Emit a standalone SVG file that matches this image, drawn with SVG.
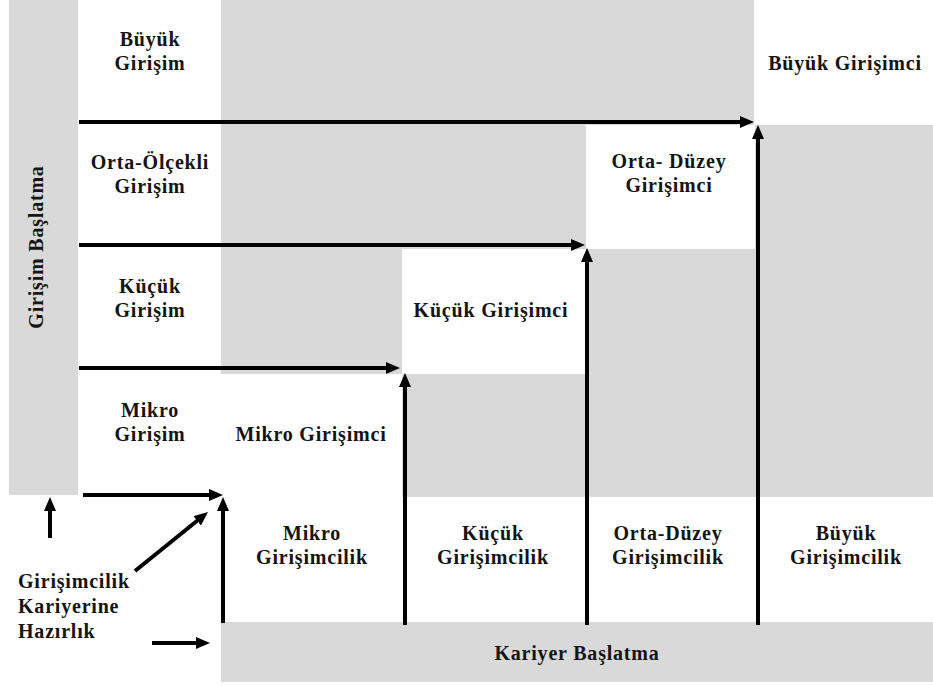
<svg xmlns="http://www.w3.org/2000/svg" width="933" height="686" viewBox="0 0 933 686" font-family="'Liberation Serif', 'Times New Roman', serif">
<defs>
<style>
.bg{fill:#d9d9d9}
.t{font-family:'Liberation Serif','Times New Roman',serif;font-weight:bold;font-size:20px;letter-spacing:0.8px;fill:#141414;text-anchor:middle}
.tl{text-anchor:start}
.c{stroke:#000;stroke-width:4;fill:none;marker-end:url(#ah)}
</style>
<marker id="ah" markerUnits="userSpaceOnUse" markerWidth="16" markerHeight="14" refX="2" refY="6" orient="auto">
<path d="M0,0 L14,6 L0,12 z" fill="#000"/>
</marker>
</defs>
<rect width="933" height="686" fill="#fff"/>
<g id="background">
<rect class="bg" x="9" y="0" width="69" height="495"/>
<rect class="bg" x="221" y="0" width="533" height="125"/>
<rect class="bg" x="221" y="125" width="365" height="124"/>
<rect class="bg" x="755" y="125" width="178" height="124"/>
<rect class="bg" x="221" y="249" width="181" height="125"/>
<rect class="bg" x="586" y="249" width="347" height="125"/>
<rect class="bg" x="402" y="374" width="531" height="123"/>
<rect class="bg" x="221" y="622" width="712" height="60"/>
</g>
<g id="axis-girisim-baslatma"><text class="t" transform="translate(43,247) rotate(-90)">Girişim Başlatma</text></g>
<g id="buyuk-girisim"><text class="t" x="150" y="46">Büyük</text><text class="t" x="150" y="70">Girişim</text></g>
<g id="orta-olcekli-girisim"><text class="t" x="150" y="169">Orta-Ölçekli</text><text class="t" x="150" y="193">Girişim</text></g>
<g id="kucuk-girisim"><text class="t" x="150" y="293">Küçük</text><text class="t" x="150" y="317">Girişim</text></g>
<g id="mikro-girisim"><text class="t" x="150" y="417">Mikro</text><text class="t" x="150" y="441">Girişim</text></g>
<g id="buyuk-girisimci"><text class="t" x="845" y="70">Büyük Girişimci</text></g>
<g id="orta-duzey-girisimci"><text class="t" x="669" y="168">Orta- Düzey</text><text class="t" x="669" y="192">Girişimci</text></g>
<g id="kucuk-girisimci"><text class="t" x="491" y="317">Küçük Girişimci</text></g>
<g id="mikro-girisimci"><text class="t" x="311" y="441">Mikro Girişimci</text></g>
<g id="mikro-girisimcilik"><text class="t" x="312" y="540">Mikro</text><text class="t" x="312" y="564">Girişimcilik</text></g>
<g id="kucuk-girisimcilik"><text class="t" x="493" y="540">Küçük</text><text class="t" x="493" y="564">Girişimcilik</text></g>
<g id="orta-duzey-girisimcilik"><text class="t" x="668" y="540">Orta-Düzey</text><text class="t" x="668" y="564">Girişimcilik</text></g>
<g id="buyuk-girisimcilik"><text class="t" x="846" y="540">Büyük</text><text class="t" x="846" y="564">Girişimcilik</text></g>
<g id="kariyer-baslatma"><text class="t" x="577" y="660">Kariyer Başlatma</text></g>
<g id="hazirlik"><text class="t tl" x="18" y="588">Girişimcilik</text><text class="t tl" x="18" y="613">Kariyerine</text><text class="t tl" x="18" y="638">Hazırlık</text></g>
<g id="connectors">
<line class="c" x1="79" y1="122" x2="742" y2="122"/>
<line class="c" x1="79" y1="245" x2="573" y2="245"/>
<line class="c" x1="79" y1="368" x2="388" y2="368"/>
<line class="c" x1="83" y1="495" x2="211" y2="495"/>
<line class="c" x1="223" y1="623" x2="223" y2="509"/>
<line class="c" x1="405" y1="625" x2="405" y2="385"/>
<line class="c" x1="587" y1="625" x2="587" y2="260"/>
<line class="c" x1="758" y1="625" x2="758" y2="137"/>
<line class="c" x1="50" y1="538" x2="50" y2="509"/>
<line class="c" x1="135" y1="571" x2="198.7" y2="519.5"/>
<line class="c" x1="152" y1="643" x2="198" y2="643"/>
</g>
</svg>
